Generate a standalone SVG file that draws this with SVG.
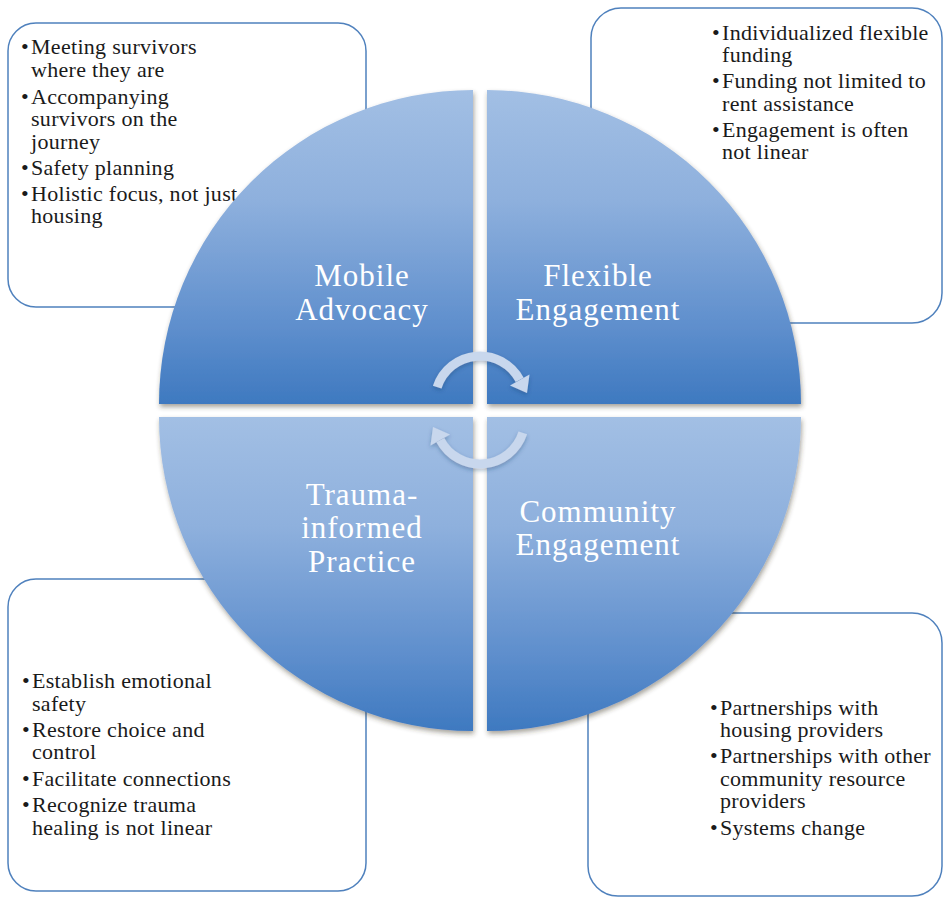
<svg xmlns="http://www.w3.org/2000/svg" width="943" height="898" viewBox="0 0 943 898">
<style>
.box{fill:#ffffff;stroke:#4f81bd;stroke-width:1.5}
.t{font-family:"Liberation Serif","Times New Roman",serif;font-size:22px;letter-spacing:0.3px;fill:#1a1a1a}
.lbl{font-family:"Liberation Serif","Times New Roman",serif;font-size:31px;letter-spacing:1px;fill:#ffffff;text-anchor:middle}
.q{filter:url(#sh)}
.arr{fill:none;stroke:#c8d7ed;stroke-width:9}
.ah{fill:#c8d7ed}
</style>
<defs>
<linearGradient id="gq" x1="0" y1="0" x2="0" y2="1">
<stop offset="0" stop-color="#a2bfe4"/>
<stop offset="0.35" stop-color="#8eb0dd"/>
<stop offset="0.75" stop-color="#5f8fcd"/>
<stop offset="1" stop-color="#3e79c0"/>
</linearGradient>
<filter id="sh" x="-10%" y="-10%" width="120%" height="120%">
<feDropShadow dx="1" dy="3" stdDeviation="2.5" flood-color="#3a3020" flood-opacity="0.45"/>
</filter>
<filter id="ash" x="-20%" y="-20%" width="140%" height="140%">
<feDropShadow dx="0" dy="2" stdDeviation="2" flood-color="#1d3a66" flood-opacity="0.35"/>
</filter>
</defs>

<g id="box-mobile"><rect class="box" x="8" y="23" width="358" height="284" rx="28"/>
<text class="t"><tspan x="21" y="54">•</tspan><tspan x="31">Meeting survivors</tspan><tspan x="31" y="77">where they are</tspan><tspan x="21" y="104">•</tspan><tspan x="31">Accompanying</tspan><tspan x="31" y="126">survivors on the</tspan><tspan x="31" y="149">journey</tspan><tspan x="21" y="175">•</tspan><tspan x="31">Safety planning</tspan><tspan x="21" y="201">•</tspan><tspan x="31">Holistic focus, not just</tspan><tspan x="31" y="223">housing</tspan></text>
</g>
<g id="box-flexible"><rect class="box" x="591" y="8" width="351" height="315" rx="30"/>
<text class="t"><tspan x="712" y="40">•</tspan><tspan x="722">Individualized flexible</tspan><tspan x="722" y="62">funding</tspan><tspan x="712" y="88">•</tspan><tspan x="722">Funding not limited to</tspan><tspan x="722" y="111">rent assistance</tspan><tspan x="712" y="137">•</tspan><tspan x="722">Engagement is often</tspan><tspan x="722" y="159">not linear</tspan></text>
</g>
<g id="box-trauma"><rect class="box" x="8" y="579" width="358" height="312" rx="28"/>
<text class="t"><tspan x="22" y="688">•</tspan><tspan x="32">Establish emotional</tspan><tspan x="32" y="711">safety</tspan><tspan x="22" y="737">•</tspan><tspan x="32">Restore choice and</tspan><tspan x="32" y="759">control</tspan><tspan x="22" y="786">•</tspan><tspan x="32">Facilitate connections</tspan><tspan x="22" y="812">•</tspan><tspan x="32">Recognize trauma</tspan><tspan x="32" y="835">healing is not linear</tspan></text>
</g>
<g id="box-community"><rect class="box" x="588" y="613" width="354" height="283" rx="30"/>
<text class="t"><tspan x="710" y="715">•</tspan><tspan x="720">Partnerships with</tspan><tspan x="720" y="737">housing providers</tspan><tspan x="710" y="763">•</tspan><tspan x="720">Partnerships with other</tspan><tspan x="720" y="786">community resource</tspan><tspan x="720" y="808">providers</tspan><tspan x="710" y="835">•</tspan><tspan x="720">Systems change</tspan></text>
</g>

<g id="q-mobile"><path class="q" fill="url(#gq)" d="M473 404 L159 404 A314 314 0 0 1 473 90 Z"/>
<text class="lbl" x="362" y="286">Mobile</text><text class="lbl" x="362" y="320">Advocacy</text></g>
<g id="q-flexible"><path class="q" fill="url(#gq)" d="M487 404 L487 90 A314 314 0 0 1 801 404 Z"/>
<text class="lbl" x="598" y="286">Flexible</text><text class="lbl" x="598" y="320">Engagement</text></g>
<g id="q-trauma"><path class="q" fill="url(#gq)" d="M473 417 L473 731 A314 314 0 0 1 159 417 Z"/>
<text class="lbl" x="362" y="505">Trauma-</text><text class="lbl" x="362" y="538">informed</text><text class="lbl" x="362" y="572">Practice</text></g>
<g id="q-community"><path class="q" fill="url(#gq)" d="M487 417 L801 417 A314 314 0 0 1 487 731 Z"/>
<text class="lbl" x="598" y="522">Community</text><text class="lbl" x="598" y="555">Engagement</text></g>

<g id="connectors" filter="url(#ash)">
<g id="arrow-top">
<path class="arr" d="M437.2 387.1 A45 45 0 0 1 519.7 379.9"/>
<polygon class="ah" points="529.5,374.5 510,385.5 527,393"/>
</g>
<g id="arrow-bottom" transform="rotate(180 480 410)">
<path class="arr" d="M437.2 387.1 A45 45 0 0 1 519.7 379.9"/>
<polygon class="ah" points="529.5,374.5 510,385.5 527,393"/>
</g>
</g>
</svg>
